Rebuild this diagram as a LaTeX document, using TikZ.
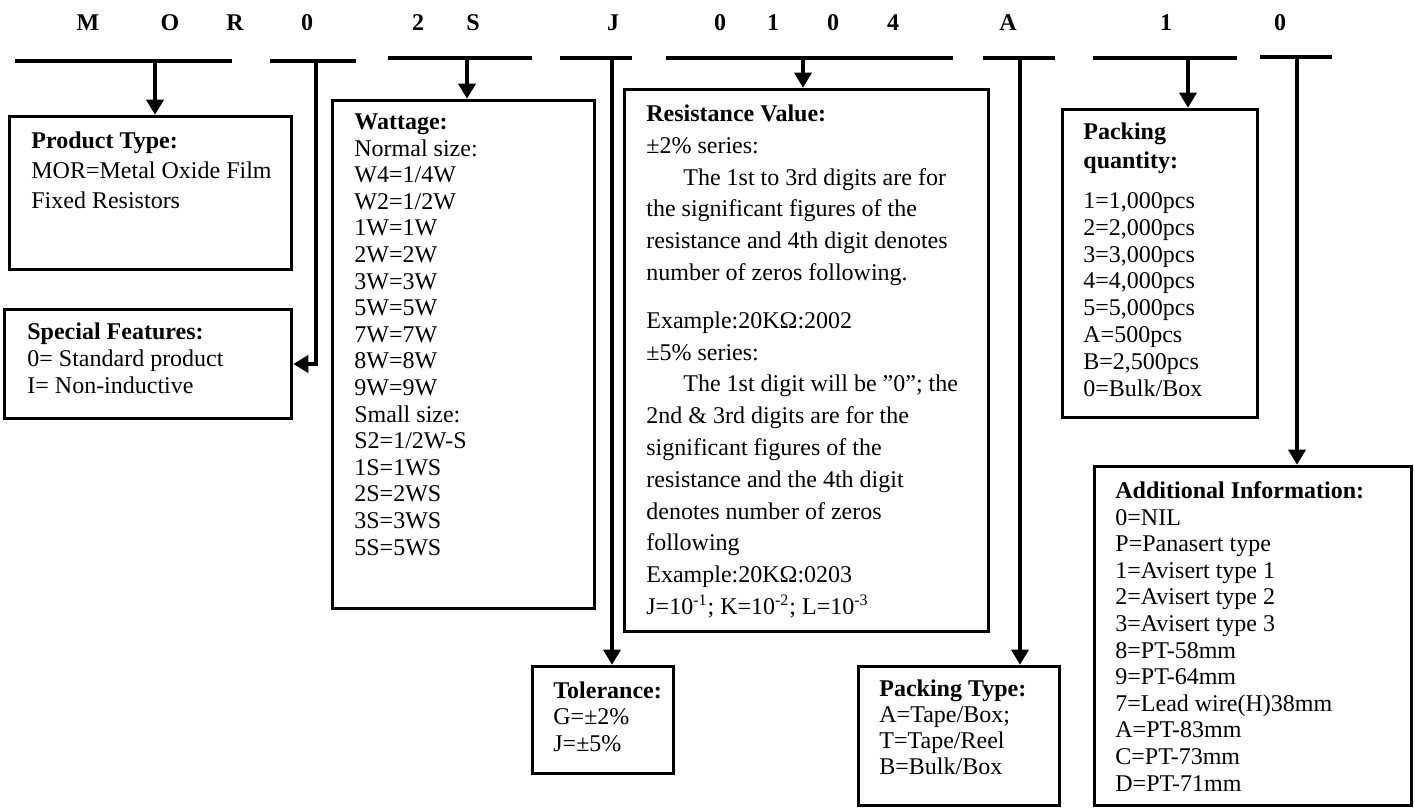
\documentclass[tikz,border=0pt]{standalone}
\usepackage{fontspec}
\setmainfont{Liberation Serif}
\usetikzlibrary{arrows.meta}
\newcommand{\firstln}{\rule{0pt}{11pt}}
\begin{document}
\begin{tikzpicture}[x=0.5pt,y=-0.5pt,
  bar/.style={line width=1.8pt},
  conn/.style={line width=1.8pt},
  arr/.style={conn,-{Triangle[length=7.5pt,width=8.5pt]}},
  box/.style={draw,line width=1.8pt,inner sep=0pt,rectangle},
  code/.style={font=\bfseries\fontsize{12}{14}\selectfont,anchor=base,inner sep=0pt},
  txt/.style={anchor=north west,inner sep=0pt,align=left,font=\fontsize{12}{#1}\selectfont}]
\useasboundingbox (0,0) rectangle (1415,810);

% code letters
\node[code] (m1) at (88,30) {M};
\node[code] (m2) at (170,30) {O};
\node[code] (m3) at (235,30) {R};
\node[code] (m4) at (307,30) {0};
\node[code] (m5) at (418,30) {2};
\node[code] (m6) at (473,30) {S};
\node[code] (m7) at (613,30) {J};
\node[code] (m8) at (720,30) {0};
\node[code] (m9) at (773,30) {1};
\node[code] (m10) at (833,30) {0};
\node[code] (m11) at (893,30) {4};
\node[code] (m12) at (1008,30) {A};
\node[code] (m13) at (1166,30) {1};
\node[code] (m14) at (1280,30) {0};

% bars
\draw[bar] (15,61) -- (232,61);
\draw[bar] (270,61) -- (356,61);
\draw[bar] (388,58) -- (532,58);
\draw[bar] (560,58) -- (632,58);
\draw[bar] (666,58) -- (953,58);
\draw[bar] (983,58) -- (1055,58);
\draw[bar] (1093,58) -- (1237,58);
\draw[bar] (1260,57) -- (1332,57);

% connector start points on bars
\coordinate (cM) at (155,61);
\coordinate (c0) at (316,61);
\coordinate (cW) at (467,58);
\coordinate (cJ) at (612,58);
\coordinate (cR) at (803,58);
\coordinate (cA) at (1020,58);
\coordinate (cQ) at (1188,58);
\coordinate (cX) at (1297,57);

% boxes
\node[box,minimum width=141pt,minimum height=76.5pt] (pt) at (150.5,193) {};
\node[box,minimum width=143.5pt,minimum height=54.5pt] (sf) at (148,364) {};
\node[box,minimum width=131pt,minimum height=254pt] (wt) at (463.5,354.5) {};
\node[box,minimum width=182pt,minimum height=271pt] (rv) at (806.5,360.5) {};
\node[box,minimum width=70.5pt,minimum height=53.5pt] (tol) at (603,720) {};
\node[box,minimum width=100.5pt,minimum height=69.5pt] (pk) at (959,736) {};
\node[box,minimum width=97.5pt,minimum height=154pt] (pq) at (1160,263.5) {};
\node[box,minimum width=158.5pt,minimum height=169.5pt] (ad) at (1253,636) {};

% connectors
\draw[arr] (cM) -- (cM |- pt.north);
\draw[arr] (c0) |- (sf.east);
\draw[arr] (cW) -- (cW |- wt.north);
\draw[arr] (cJ) -- (cJ |- tol.north);
\draw[arr] (cR) -- (cR |- rv.north);
\draw[arr] (cA) -- (cA |- pk.north);
\draw[arr] (cQ) -- (cQ |- pq.north);
\draw[arr] (cX) -- (cX |- ad.north);

% texts
\node[txt=15pt] (ptt) at (31,126) {\firstln\textbf{Product Type:}\\
MOR=Metal Oxide Film\\
Fixed Resistors};

\node[txt=13.5pt] (sft) at (27,317) {\firstln\textbf{Special Features:}\\
0= Standard product\\
I= Non-inductive};

\node[txt=13.3pt] (wtt) at (354,107) {\firstln\textbf{Wattage:}\\
Normal size:\\
W4=1/4W\\
W2=1/2W\\
1W=1W\\
2W=2W\\
3W=3W\\
5W=5W\\
7W=7W\\
8W=8W\\
9W=9W\\
Small size:\\
S2=1/2W-S\\
1S=1WS\\
2S=2WS\\
3S=3WS\\
5S=5WS};

\node[txt=15.9pt] (rvt) at (646,99) {\firstln\textbf{Resistance Value:}\\
±2\% series:\\
\hspace*{18.5pt}The 1st to 3rd digits are for\\
the significant figures of the\\
resistance and 4th digit denotes\\
number of zeros following.\\[8pt]
Example:20KΩ:2002\\
±5\% series:\\
\hspace*{18.5pt}The 1st digit will be ”0”; the\\
2nd \& 3rd digits are for the\\
significant figures of the\\
resistance and the 4th digit\\
denotes number of zeros\\
following\\
Example:20KΩ:0203\\
J=10\textsuperscript{-1}; K=10\textsuperscript{-2}; L=10\textsuperscript{-3}};

\node[txt=13.25pt] (tolt) at (553,676) {\firstln\textbf{Tolerance:}\\
G=±2\%\\
J=±5\%};

\node[txt=13pt] (pkt) at (879,674) {\firstln\textbf{Packing Type:}\\
A=Tape/Box;\\
T=Tape/Reel\\
B=Bulk/Box};

\node[txt=13.45pt] (pqt) at (1083,117) {\firstln\textbf{Packing}\\[1pt]
\textbf{quantity:}\\[6.5pt]
1=1,000pcs\\
2=2,000pcs\\
3=3,000pcs\\
4=4,000pcs\\
5=5,000pcs\\
A=500pcs\\
B=2,500pcs\\
0=Bulk/Box};

\node[txt=13.3pt] (adt) at (1115,476) {\firstln\textbf{Additional Information:}\\
0=NIL\\
P=Panasert type\\
1=Avisert type 1\\
2=Avisert type 2\\
3=Avisert type 3\\
8=PT-58mm\\
9=PT-64mm\\
7=Lead wire(H)38mm\\
A=PT-83mm\\
C=PT-73mm\\
D=PT-71mm};
\end{tikzpicture}
\end{document}
